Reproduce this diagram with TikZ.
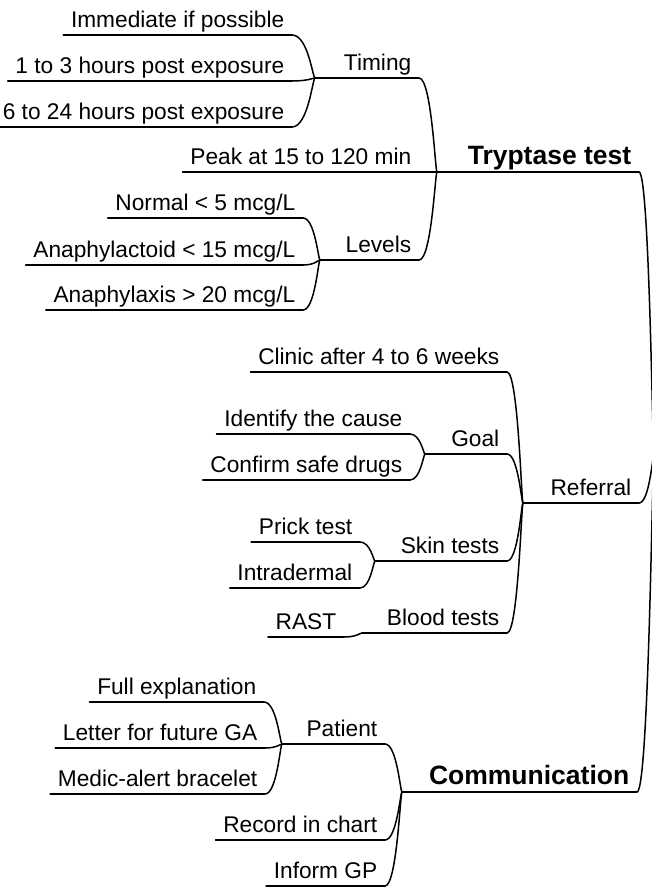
\documentclass[tikz,border=0pt]{standalone}
\usepackage{fontspec}
\setmainfont{Liberation Sans}
\usetikzlibrary{calc}
\begin{document}
\begin{tikzpicture}[x=1pt,y=-1pt,
  line width=1.5pt, line cap=round, line join=round,
  topic/.style={anchor=south east, inner xsep=7pt, inner ysep=2pt,
    text depth=5pt, font=\fontsize{22.7}{27}\selectfont},
  main/.style={topic, font=\fontsize{26.5}{31}\selectfont\bfseries},
  branch/.style={to path={let \p1=(\tikztostart), \p2=(\tikztotarget) in
    .. controls ({\x1+0.7*(\x2-\x1)}, \y1) and ({\x2-0.1*(\x2-\x1)}, \y2) .. (\tikztotarget)}},
]
\useasboundingbox (0,0) rectangle (652,891);

% junction points where sibling branches meet
\coordinate (root) at (654,455);
\coordinate (tryp-j) at (437,172);
\coordinate (timing-j) at (315,78);
\coordinate (levels-j) at (320,260);
\coordinate (ref-j) at (523,503);
\coordinate (goal-j) at (425,454);
\coordinate (skin-j) at (375,561);
\coordinate (blood-j) at (362,633);
\coordinate (comm-j) at (402,792);
\coordinate (patient-j) at (282,744);

% Tryptase test
\node[main]  (tryp)    at (639,172) {Tryptase test};
\node[topic] (timing)  at (419,78)  {Timing};
\node[topic] (imm)     at (292,35)  {Immediate if possible};
\node[topic] (h13)     at (292,81)  {1 to 3 hours post exposure};
\node[topic] (h624)    at (292,127) {6 to 24 hours post exposure};
\node[topic] (peak)    at (419,172) {Peak at 15 to 120 min};
\node[topic] (levels)  at (419,260) {Levels};
\node[topic] (normal)  at (303,218) {Normal < 5 mcg/L};
\node[topic] (actoid)  at (303,265) {Anaphylactoid < 15 mcg/L};
\node[topic] (axis)    at (303,310) {Anaphylaxis > 20 mcg/L};

% Referral
\node[topic] (referral) at (639,503) {Referral};
\node[topic] (clinic)   at (507,372) {Clinic after 4 to 6 weeks};
\node[topic] (goal)     at (507,454) {Goal};
\node[topic] (identify) at (410,434) {Identify the cause};
\node[topic] (confirm)  at (410,480) {Confirm safe drugs};
\node[topic] (skin)     at (507,561) {Skin tests};
\node[topic] (prick)    at (360,542) {Prick test};
\node[topic] (intra)    at (360,588) {Intradermal};
\node[topic] (blood)    at (507,633) {Blood tests};
\node[topic] (rast)     at (344,637) {RAST};

% Communication
\node[main]  (comm)    at (637,792) {Communication};
\node[topic] (patient) at (385,744) {Patient};
\node[topic] (fullexp) at (264,702) {Full explanation};
\node[topic] (letter)  at (265,748) {Letter for future GA};
\node[topic] (medic)   at (265,794) {Medic-alert bracelet};
\node[topic] (record)  at (385,840) {Record in chart};
\node[topic] (inform)  at (385,886) {Inform GP};

% underlines of the leaves
\foreach \n in {imm,h13,h624,peak,normal,actoid,axis,clinic,identify,confirm,
                prick,intra,rast,fullexp,letter,medic,record,inform}
  \draw (\n.south west) -- (\n.south east);

% underlines of the parents, running on to their junctions
\draw (tryp-j) -- (tryp.south east);
\draw (timing-j) -- (timing.south east);
\draw (levels-j) -- (levels.south east);
\draw (ref-j) -- (referral.south east);
\draw (goal-j) -- (goal.south east);
\draw (skin-j) -- (skin.south east);
\draw (blood-j) -- (blood.south east);
\draw (comm-j) -- (comm.south east);
\draw (patient-j) -- (patient.south east);

% branches
\draw (tryp.south east) to[branch] (root);
\draw (referral.south east) to[branch] (root);
\draw (comm.south east) to[branch] (root);

\draw (timing.south east) to[branch] (tryp-j);
\draw (peak.south east) to[branch] (tryp-j);
\draw (levels.south east) to[branch] (tryp-j);
\draw (imm.south east) to[branch] (timing-j);
\draw (h13.south east) to[branch] (timing-j);
\draw (h624.south east) to[branch] (timing-j);
\draw (normal.south east) to[branch] (levels-j);
\draw (actoid.south east) to[branch] (levels-j);
\draw (axis.south east) to[branch] (levels-j);

\draw (clinic.south east) to[branch] (ref-j);
\draw (goal.south east) to[branch] (ref-j);
\draw (skin.south east) to[branch] (ref-j);
\draw (blood.south east) to[branch] (ref-j);
\draw (identify.south east) to[branch] (goal-j);
\draw (confirm.south east) to[branch] (goal-j);
\draw (prick.south east) to[branch] (skin-j);
\draw (intra.south east) to[branch] (skin-j);
\draw (rast.south east) to[branch] (blood-j);

\draw (patient.south east) to[branch] (comm-j);
\draw (record.south east) to[branch] (comm-j);
\draw (inform.south east) to[branch] (comm-j);
\draw (fullexp.south east) to[branch] (patient-j);
\draw (letter.south east) to[branch] (patient-j);
\draw (medic.south east) to[branch] (patient-j);
\end{tikzpicture}
\end{document}
